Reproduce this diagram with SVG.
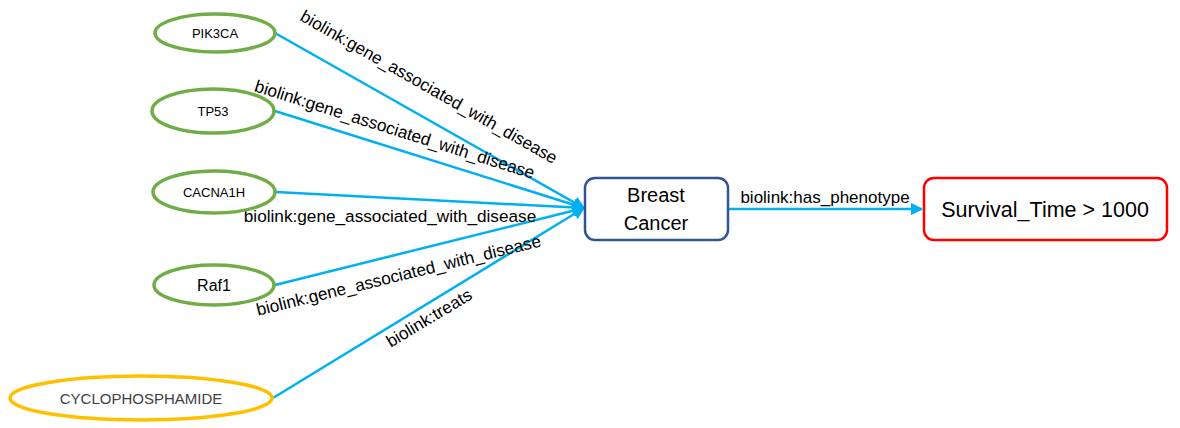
<svg xmlns="http://www.w3.org/2000/svg" width="1180" height="428" viewBox="0 0 1180 428">
<style>
.gene{fill:#fff;stroke:#70AD47;stroke-width:3.5}
.drug{fill:#fff;stroke:#FFC000;stroke-width:3.5}
.edge{stroke:#00B0F0;stroke-width:2.5;fill:none}
.lbl{font-family:"Liberation Sans",Arial,sans-serif;font-size:17.2px;fill:#000}
.nt{font-family:"Liberation Sans",Arial,sans-serif;fill:#000;text-anchor:middle;dominant-baseline:central}
</style>
<defs>
<marker id="arr" viewBox="0 0 10 10" refX="9" refY="5" markerWidth="5" markerHeight="5" orient="auto" markerUnits="strokeWidth">
<path d="M0,0 L10,5 L0,10 z" fill="#00B0F0"/>
</marker>
</defs>
<rect width="1180" height="428" fill="#fff"/>
<g id="connectors">
<line class="edge" x1="275" y1="33" x2="584" y2="208" marker-end="url(#arr)"/>
<line class="edge" x1="275" y1="111" x2="584" y2="208" marker-end="url(#arr)"/>
<line class="edge" x1="276" y1="192" x2="584" y2="208" marker-end="url(#arr)"/>
<line class="edge" x1="275" y1="285" x2="584" y2="208" marker-end="url(#arr)"/>
<line class="edge" x1="273" y1="398" x2="584" y2="208" marker-end="url(#arr)"/>
<line class="edge" x1="728" y1="209" x2="922" y2="209" marker-end="url(#arr)"/>
<text class="lbl" transform="translate(426,92) rotate(29.6)" text-anchor="middle">biolink:gene_associated_with_disease</text>
<text class="lbl" transform="translate(393,135) rotate(17.5)" text-anchor="middle">biolink:gene_associated_with_disease</text>
<text class="lbl" x="390" y="222" text-anchor="middle">biolink:gene_associated_with_disease</text>
<text class="lbl" transform="translate(400,281) rotate(-13.8)" text-anchor="middle">biolink:gene_associated_with_disease</text>
<text class="lbl" transform="translate(432,323) rotate(-31)" text-anchor="middle">biolink:treats</text>
<text class="lbl" x="825" y="203" text-anchor="middle" style="font-size:17px">biolink:has_phenotype</text>
</g>
<g id="PIK3CA"><ellipse class="gene" cx="215" cy="33" rx="60" ry="19"/><text class="nt" x="215" y="33" font-size="13">PIK3CA</text></g>
<g id="TP53"><ellipse class="gene" cx="213" cy="111" rx="61" ry="22"/><text class="nt" x="213" y="111" font-size="13">TP53</text></g>
<g id="CACNA1H"><ellipse class="gene" cx="214" cy="192" rx="61" ry="21"/><text class="nt" x="214" y="192" font-size="13">CACNA1H</text></g>
<g id="Raf1"><ellipse class="gene" cx="214" cy="285" rx="60" ry="20"/><text class="nt" x="214" y="285" font-size="16">Raf1</text></g>
<g id="CYCLOPHOSPHAMIDE"><ellipse class="drug" cx="141" cy="398" rx="131" ry="22"/><text class="nt" x="141" y="398" font-size="15" style="fill:#404040">CYCLOPHOSPHAMIDE</text></g>
<g id="BreastCancer"><rect x="585" y="178" width="143" height="62" rx="10" fill="#fff" stroke="#2F5597" stroke-width="2.5"/><text class="nt" x="656" y="195" font-size="20">Breast</text><text class="nt" x="656" y="223" font-size="20">Cancer</text></g>
<g id="Survival"><rect x="924" y="178" width="243" height="62" rx="10" fill="#fff" stroke="#FF0000" stroke-width="2.5"/><text class="nt" x="1045" y="210" font-size="21.5">Survival_Time &gt; 1000</text></g>
</svg>
